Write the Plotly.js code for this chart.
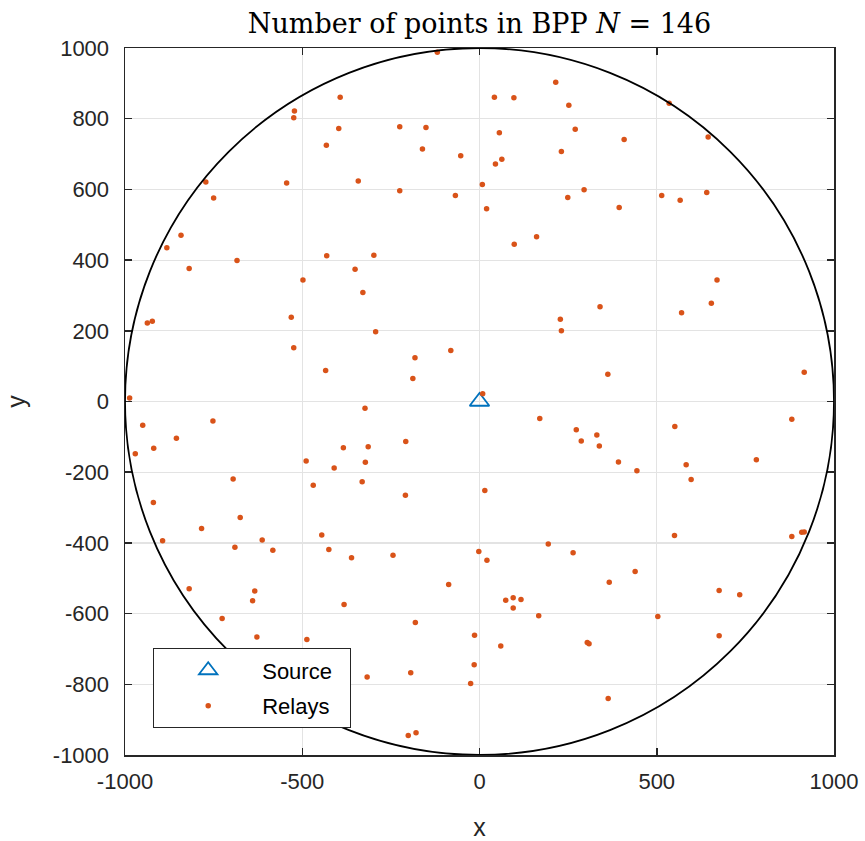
<!DOCTYPE html>
<html>
<head>
<meta charset="utf-8">
<script src="https://cdn.plot.ly/plotly-3.0.1.min.js"></script>
<style>html,body{margin:0;padding:0;background:#fff;}</style>
</head>
<body>
<div id="chart" style="width:865px;height:841px;"></div>
<script>
const sourceX = [0];
const sourceY = [0];
const relayX = [
  -119, 215, 42, 97, 252, -225, -151, 56, 270, -161, -53, 231, 45, 63, -342, -225, 8, -68, 249, 295, 20, 161, 98, -298, -351,
  -393, -522, -524, -397, -432, -772, -544, -750, -842, -882, -684, -431, -819, -498,
  535, 408, 645, 514, 566, 641, 394, 670,
  -937, -923, -531, -524, -434, -987, -950, -752, -855, -971, -919, -489, -384, -410, -695, -469, -920, -675,
  -329, -293, -81, -182, -188, 228, 231, 340, 9, -323, 170, 273, 287, 331, 338, -314, -208, -322, -331, -209, 15,
  654, 570, 362, 916, 551, 881, 392, 444, 583, 597, 781,
  -784, -894, -690, -613, -583, -445, -425, -361, -819, -634, -640, -382, -726, -628, -487,
  -244, -2, 21, 194, 264, -87, 74, 95, 117, 95, 167, -181, -14, 60, 304, 309, -15, -317, -194, -25, -201, -179,
  550, 881, 909, 916, 439, 366, 676, 734, 503, 676, 363
];
const relayY = [
  988, 903, 861, 859, 838, 777, 775, 760, 770, 714, 695, 707, 672, 685, 624, 596, 614, 583, 577, 599, 545, 466, 445, 414, 374,
  861, 822, 803, 772, 725, 621, 618, 576, 470, 435, 399, 412, 376, 344,
  844, 741, 748, 583, 569, 591, 549, 344,
  222, 227, 238, 152, 88, 10, -67, -55, -104, -148, -132, -168, -131, -188, -219, -237, -286, -328,
  308, 197, 144, 124, 65, 233, 200, 268, 22, -19, -48, -80, -112, -95, -126, -128, -113, -172, -227, -265, -252,
  278, 251, 77, 83, -71, -50, -171, -196, -179, -221, -165,
  -359, -394, -412, -392, -421, -378, -419, -442, -530, -536, -564, -574, -614, -666, -673,
  -435, -424, -449, -403, -428, -518, -562, -555, -560, -584, -606, -625, -661, -692, -682, -685, -745, -779, -767, -798, -945, -937,
  -379, -382, -370, -369, -481, -511, -535, -547, -608, -663, -840
];
const xTickVals = [-1000, -500, 0, 500, 1000];
const xTickText = ["-1000", "-500", "0", "500", "1000"];
const yTickVals = [-1000, -800, -600, -400, -200, 0, 200, 400, 600, 800, 1000];
const yTickText = ["-1000", "-800", "-600", "-400", "-200", "0", "200", "400", "600", "800", "1000"];
const radius = 1000;

const axisColor = '#262626';
const tickFont = {family: 'Liberation Sans, Arial, sans-serif', size: 22, color: axisColor};

const traces = [
  {
    x: sourceX, y: sourceY, name: 'Source\u00a0\u00a0', mode: 'markers', type: 'scatter', legendgroup: 'a',
    marker: {symbol: 'triangle-up-open', size: 17, color: '#0072BD', line: {width: 1.8, color: '#0072BD'}}
  },
  {
    x: relayX, y: relayY, name: 'Relays', mode: 'markers', type: 'scatter', legendgroup: 'b',
    marker: {symbol: 'circle', size: 5.5, color: '#D95319', line: {width: 0}}
  }
];

const layout = {
  width: 865, height: 841, autosize: false,
  paper_bgcolor: '#ffffff', plot_bgcolor: '#ffffff',
  margin: {l: 125, r: 31, t: 48, b: 86, pad: 0},
  title: {
    text: 'Number of points in BPP <i>N</i> = 146',
    font: {family: 'DejaVu Serif, serif', size: 27, color: '#000'},
    x: 0.5, xref: 'paper', xanchor: 'center', y: 0.972, yref: 'container', yanchor: 'middle'
  },
  xaxis: {
    range: [-1000, 1000], tickvals: xTickVals, ticktext: xTickText,
    showline: true, linecolor: axisColor, linewidth: 1.5, mirror: 'ticks',
    ticks: 'inside', ticklen: 7, tickwidth: 1.5, tickcolor: axisColor,
    showgrid: true, gridcolor: '#e3e3e3', gridwidth: 1.2, zeroline: false,
    tickfont: tickFont, ticklabelstandoff: 6,
    title: {text: 'x', font: {family: 'Liberation Sans, Arial, sans-serif', size: 25, color: axisColor}, standoff: 26}
  },
  yaxis: {
    range: [-1000, 1000], tickvals: yTickVals, ticktext: yTickText,
    showline: true, linecolor: axisColor, linewidth: 1.5, mirror: 'ticks',
    ticks: 'inside', ticklen: 7, tickwidth: 1.5, tickcolor: axisColor,
    showgrid: true, gridcolor: '#e3e3e3', gridwidth: 1.2, zeroline: false,
    tickfont: tickFont, ticklabelstandoff: 10,
    title: {text: 'y', font: {family: 'Liberation Sans, Arial, sans-serif', size: 25, color: axisColor}, standoff: 20}
  },
  shapes: [
    {type: 'circle', xref: 'x', yref: 'y', x0: -radius, x1: radius, y0: -radius, y1: radius,
     line: {color: '#000000', width: 1.8}, layer: 'above'}
  ],
  showlegend: true,
  legend: {
    x: 0.0395, y: 0.151, xanchor: 'left', yanchor: 'top',
    bgcolor: '#ffffff', bordercolor: '#262626', borderwidth: 1.2,
    font: {family: 'Liberation Sans, Arial, sans-serif', size: 22, color: '#000'},
    itemwidth: 98, tracegroupgap: 4
  }
};

Plotly.newPlot('chart', traces, layout, {displayModeBar: false, staticPlot: true});
</script>
</body>
</html>
